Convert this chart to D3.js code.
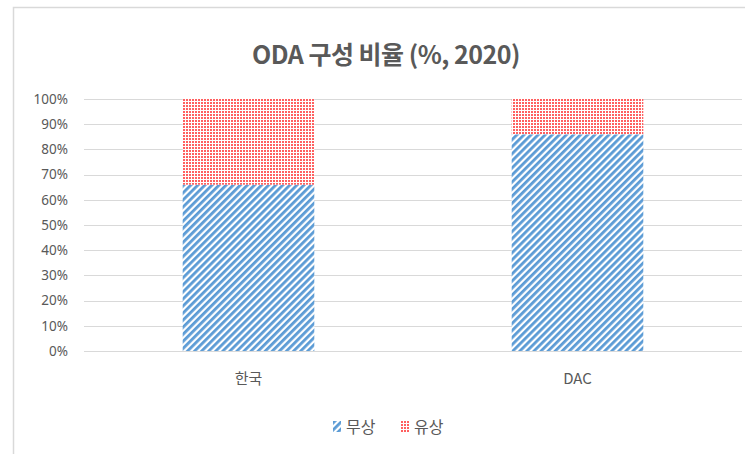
<!DOCTYPE html>
<html>
<head>
<meta charset="utf-8">
<script src="https://cdn.jsdelivr.net/npm/d3@7"></script>
<style>
  body { margin: 0; background: #fff; }
  text { font-family: "Noto Sans CJK KR", "Noto Sans", sans-serif; }
</style>
</head>
<body>
<div id="chart"></div>
<script>
// data
var categories = ["한국", "DAC"];
var grantValues = [66, 86];   // 무상
var loanValues = [34, 14];    // 유상
var seriesNames = ["무상", "유상"];
var yTicks = [0, 10, 20, 30, 40, 50, 60, 70, 80, 90, 100];

var width = 745, height = 454;
var margin = { top: 99, right: 3, bottom: 103, left: 84 };
var plotW = width - margin.left - margin.right,
    plotH = height - margin.top - margin.bottom;

var svg = d3.select("#chart").append("svg")
    .attr("width", width)
    .attr("height", height);

// patterns for the two series
var defs = svg.append("defs");
var stripe = defs.append("pattern")
    .attr("id", "stripe")
    .attr("patternUnits", "userSpaceOnUse")
    .attr("width", 5).attr("height", 5)
    .attr("patternTransform", "rotate(45)");
stripe.append("rect").attr("width", 5).attr("height", 5).attr("fill", "#fff");
stripe.append("rect").attr("width", 2.8).attr("height", 5).attr("fill", "#5b9bd5");

var dots = defs.append("pattern")
    .attr("id", "dots")
    .attr("patternUnits", "userSpaceOnUse")
    .attr("width", 3).attr("height", 3);
dots.append("rect").attr("width", 3).attr("height", 3).attr("fill", "#fff");
dots.append("rect").attr("width", 2).attr("height", 2).attr("fill", "#ff6060");

// chart frame
svg.append("path")
    .attr("d", "M13.5," + height + "V7.5H" + width)
    .attr("fill", "none")
    .attr("stroke", "#d9d9d9")
    .attr("stroke-width", 1.5);

svg.append("text")
    .attr("x", 386)
    .attr("y", 64)
    .attr("text-anchor", "middle")
    .style("font-size", "25px")
    .style("font-weight", "bold")
    .style("letter-spacing", "-0.5px")
    .attr("fill", "#595959")
    .text("ODA 구성 비율 (%, 2020)");

var g = svg.append("g")
    .attr("transform", "translate(" + margin.left + "," + margin.top + ")");

var x = d3.scaleBand().domain(categories).range([0, plotW]).paddingInner(0.6).paddingOuter(0.3);
var y = d3.scaleLinear().domain([0, 100]).range([plotH, 0]);

// gridlines
g.selectAll(".grid")
    .data(yTicks.filter(function(d) { return d > 0; }))
    .enter().append("line")
    .attr("x1", 0).attr("x2", plotW)
    .attr("y1", function(d) { return Math.round(y(d)) + 0.5; })
    .attr("y2", function(d) { return Math.round(y(d)) + 0.5; })
    .attr("stroke", "#d9d9d9");

// y axis labels
var yAxis = d3.axisLeft(y).tickValues(yTicks).tickSize(0).tickPadding(16)
    .tickFormat(function(d) { return d + "%"; });
var ya = g.append("g").call(yAxis);
ya.select(".domain").remove();
ya.selectAll("text").style("font-size", "13.5px").attr("fill", "#595959")
    .style("font-family", "'Noto Sans', sans-serif");

// stacked bars
var rows = categories.map(function(c, i) {
  return { category: c, grant: grantValues[i], loan: loanValues[i] };
});
var stack = d3.stack().keys(["grant", "loan"])(rows);
var fills = ["url(#stripe)", "url(#dots)"];

g.selectAll(".layer")
    .data(stack)
    .enter().append("g")
    .attr("fill", function(d, i) { return fills[i]; })
    .selectAll("rect")
    .data(function(d) { return d; })
    .enter().append("rect")
    .attr("x", function(d) { return x(d.data.category); })
    .attr("width", x.bandwidth())
    .attr("y", function(d) { return y(d[1]); })
    .attr("height", function(d) { return y(d[0]) - y(d[1]); });

// baseline
g.append("line")
    .attr("x1", 0).attr("x2", plotW)
    .attr("y1", plotH + 0.5).attr("y2", plotH + 0.5)
    .attr("stroke", "#d9d9d9");

// category labels
var xAxis = d3.axisBottom(x).tickSize(0).tickPadding(22);
var xa = g.append("g").attr("transform", "translate(0," + plotH + ")").call(xAxis);
xa.select(".domain").remove();
xa.selectAll("text").style("font-size", "15px").attr("fill", "#595959");

// legend
var legendX = [333, 401];
var legend = svg.selectAll(".legend")
    .data(seriesNames)
    .enter().append("g")
    .attr("transform", function(d, i) { return "translate(" + legendX[i] + ",421)"; });
legend.append("rect")
    .attr("width", 8).attr("height", 11)
    .attr("fill", function(d, i) { return fills[i]; });
legend.append("text")
    .attr("x", 13).attr("y", 12)
    .style("font-size", "16px")
    .attr("fill", "#595959")
    .text(function(d) { return d; });
</script>
</body>
</html>
